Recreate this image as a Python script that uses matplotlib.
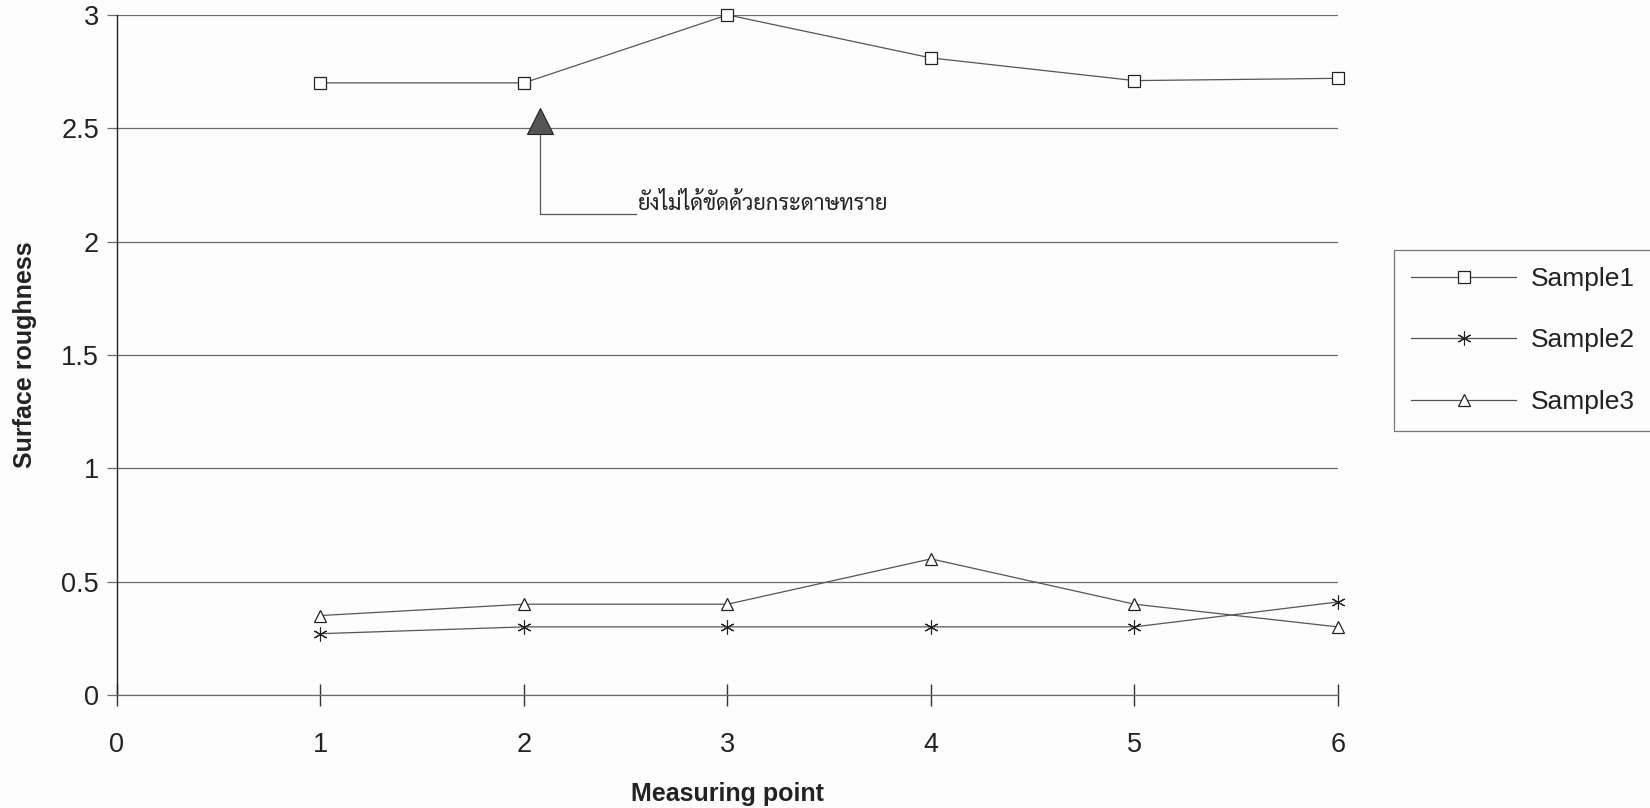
import matplotlib
matplotlib.use("Agg")
import matplotlib.pyplot as plt
from matplotlib import font_manager

# measured roughness at each point
points = [1, 2, 3, 4, 5, 6]
sample1 = [2.70, 2.70, 3.00, 2.81, 2.71, 2.72]
sample2 = [0.27, 0.30, 0.30, 0.30, 0.30, 0.41]
sample3 = [0.35, 0.40, 0.40, 0.60, 0.40, 0.30]
series_names = ["Sample1", "Sample2", "Sample3"]

note_text = "ยังไม่ได้ขัดด้วยกระดาษทราย"
note_mark = (2.08, 2.53)
note_corner = (2.08, 2.12)
note_end_x = 2.55

# pick an installed Thai face for the note
thai_family = "DejaVu Sans"
names = {f.name for f in font_manager.fontManager.ttflist}
for cand in ["Sarabun", "Loma", "Garuda", "Laksaman", "Norasi"]:
    if cand in names:
        thai_family = cand
        break

plt.rcParams["font.family"] = ["Liberation Sans", "DejaVu Sans"]

line_col = "#555555"
grid_col = "#6a6a6a"
text_col = "#222222"

fig = plt.figure(figsize=(16.5, 8.08), dpi=100, facecolor="#fdfdfd")
ax = fig.add_axes([0.0709, 0.140, 0.740, 0.8416])
ax.set_facecolor("none")

ax.plot(points, sample1, color=line_col, lw=0.9, marker="s", ms=8.5,
        mfc="white", mec=text_col, mew=0.9, label=series_names[0],
        zorder=3, clip_on=False)
ax.plot(points, sample2, color=line_col, lw=0.9, marker=(6, 2, 0), ms=10,
        mec=text_col, mew=0.8, label=series_names[1], zorder=3, clip_on=False)
ax.plot(points, sample3, color=line_col, lw=0.9, marker="^", ms=9,
        mfc="white", mec=text_col, mew=0.9, label=series_names[2],
        zorder=3, clip_on=False)

# annotation: filled triangle with an elbow leader to the note
ax.plot([note_mark[0], note_corner[0], note_end_x],
        [note_mark[1], note_corner[1], note_corner[1]],
        color=line_col, lw=0.9, zorder=2)
ax.plot(*note_mark, marker="^", ms=19, mfc="#555555", mec=text_col,
        mew=0.8, zorder=4)
ax.text(note_end_x + 0.01, note_corner[1] - 0.005, note_text,
        family=[thai_family, "DejaVu Sans"],
        fontsize=15.8, va="bottom", ha="left", color=text_col)

ax.set_xlim(0, 6)
ax.set_ylim(0, 3)
ax.set_xticks(range(0, 7))
ax.set_yticks([0, 0.5, 1, 1.5, 2, 2.5, 3])
ax.set_yticklabels(["0", "0.5", "1", "1.5", "2", "2.5", "3"])
ax.yaxis.grid(True, color=grid_col, lw=0.9)
ax.set_axisbelow(True)

for side in ["top", "right"]:
    ax.spines[side].set_visible(False)
ax.spines["left"].set_color(text_col)
ax.spines["left"].set_linewidth(1.0)
ax.spines["bottom"].set_color(grid_col)
ax.spines["bottom"].set_linewidth(0.9)

ax.tick_params(axis="y", direction="out", length=7, width=0.9, color=grid_col,
               pad=6, labelsize=19.5, labelcolor=text_col)
ax.tick_params(axis="x", direction="inout", length=16, width=1.0, color="#333333",
               pad=19, labelsize=19.5, labelcolor=text_col)

ax.set_xlabel("Measuring point", fontsize=18, fontweight="bold", labelpad=17,
              color=text_col)
ax.set_ylabel("Surface roughness", fontsize=18, fontweight="bold", labelpad=17,
              color=text_col)

leg = fig.legend(loc="upper left", bbox_to_anchor=(0.845, 0.691), borderaxespad=0,
                 fontsize=19, frameon=True, fancybox=False, handlelength=3.95,
                 handletextpad=0.57, labelspacing=1.42, borderpad=0.65)
leg.get_frame().set_edgecolor("#555555")
leg.get_frame().set_linewidth(0.9)
leg.get_frame().set_facecolor("#fdfdfd")
for t in leg.get_texts():
    t.set_color(text_col)

fig.savefig("out.png", dpi=100, facecolor=fig.get_facecolor())
